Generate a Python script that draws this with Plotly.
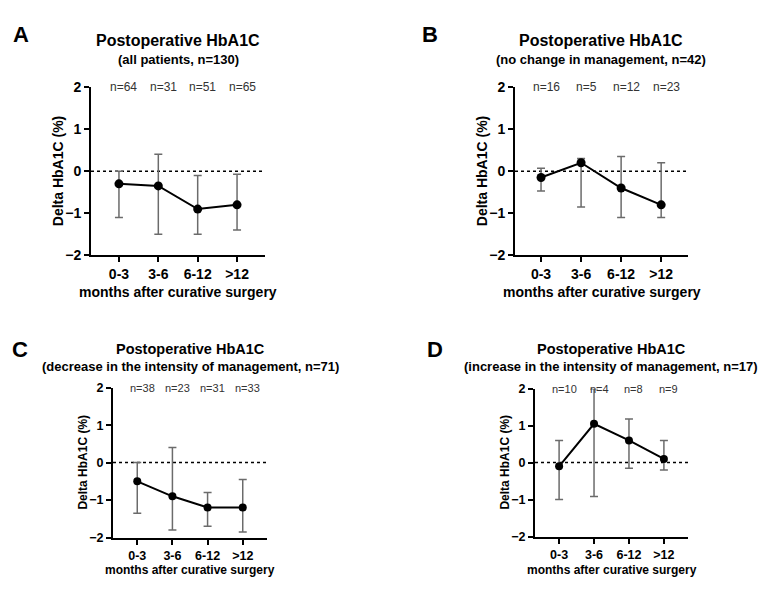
import plotly.graph_objects as go

categories = ["0-3", "3-6", "6-12", ">12"]

a_mean = [-0.3, -0.35, -0.9, -0.8]
a_low = [-1.1, -1.5, -1.5, -1.4]
a_high = [0.0, 0.4, -0.1, -0.07]
a_n = ["n=64", "n=31", "n=51", "n=65"]

b_mean = [-0.15, 0.2, -0.4, -0.8]
b_low = [-0.47, -0.85, -1.1, -1.1]
b_high = [0.07, 0.3, 0.35, 0.2]
b_n = ["n=16", "n=5", "n=12", "n=23"]

c_mean = [-0.5, -0.9, -1.2, -1.2]
c_low = [-1.35, -1.8, -1.7, -1.85]
c_high = [0.0, 0.4, -0.8, -0.45]
c_n = ["n=38", "n=23", "n=31", "n=33"]

d_mean = [-0.1, 1.05, 0.6, 0.1]
d_low = [-1.0, -0.92, -0.15, -0.2]
d_high = [0.6, 2.0, 1.18, 0.6]
d_n = ["n=10", "n=4", "n=8", "n=9"]

titles = ["Postoperative HbA1C"] * 4
subtitles = ["(all patients, n=130)", "(no change in management, n=42)",
             "(decrease in the intensity of management, n=71)",
             "(increase in the intensity of management, n=17)"]
letters = ["A", "B", "C", "D"]
y_ticks = [-2, -1, 0, 1, 2]
y_title = "Delta HbA1C (%)"
x_title = "months after curative surgery"

# The page body has an 8px default margin: size the figure so the page is exactly 777x608
PAGE_W, PAGE_H, OFF = 777, 608, 8
W, H = PAGE_W - 2 * OFF, PAGE_H - 2 * OFF
FONT = "Liberation Sans, Arial, sans-serif"

panels = [
    dict(px=(91, 265), py=(81, 254), xr=(-0.71, 3.71), mean=a_mean, low=a_low, high=a_high, n=a_n,
         title=(178, 33, 53), letter=(21, 27), ytl=58, xtl=292, big=True),
    dict(px=(515, 688), py=(81, 254), xr=(-0.65, 3.67), mean=b_mean, low=b_low, high=b_high, n=b_n,
         title=(601, 33, 53), letter=(430, 27), ytl=482, xtl=292, big=True),
    dict(px=(113, 267), py=(390, 544), xr=(-0.69, 3.69), mean=c_mean, low=c_low, high=c_high, n=c_n,
         title=(190, 350, 368), letter=(20, 351), ytl=83, xtl=577, big=False),
    dict(px=(535, 688), py=(391, 543), xr=(-0.69, 3.69), mean=d_mean, low=d_low, high=d_high, n=d_n,
         title=(611, 350, 368), letter=(435, 351), ytl=505, xtl=577, big=False),
]

def px2x(x):
    return (x - OFF) / W

def px2y(y):
    return 1 - (y - OFF) / H

fig = go.Figure()
annotations = []
shapes = []

for i, p in enumerate(panels):
    k = "" if i == 0 else str(i + 1)
    xa, ya = "x" + k, "y" + k
    up = [h - m for h, m in zip(p["high"], p["mean"])]
    dn = [m - l for m, l in zip(p["mean"], p["low"])]
    fig.add_trace(go.Scatter(
        x=categories, y=p["mean"], xaxis=xa, yaxis=ya, mode="lines+markers",
        line=dict(color="black", width=2),
        marker=dict(color="black", size=9 if p["big"] else 8),
        error_y=dict(type="data", symmetric=False, array=up, arrayminus=dn,
                     color="#6b6b6b", thickness=1.5, width=4),
        showlegend=False, cliponaxis=False,
    ))
    tfs = 14 if p["big"] else 12.5
    common_x = dict(
        domain=[px2x(p["px"][0]), px2x(p["px"][1])], anchor=ya,
        type="category", categoryorder="array", categoryarray=categories,
        range=list(p["xr"]), showline=True, linecolor="black", linewidth=2,
        ticks="outside", ticklen=5, tickwidth=2, tickcolor="black",
        showgrid=False, zeroline=False,
        tickfont=dict(family=FONT, size=tfs, color="black", weight="bold"),
    )
    common_y = dict(
        domain=[px2y(p["py"][1]), px2y(p["py"][0])], anchor=xa,
        range=[-2, 2], tickvals=y_ticks, showline=True, linecolor="black", linewidth=2,
        ticks="outside", ticklen=5, tickwidth=2, tickcolor="black",
        showgrid=False, zeroline=False,
        tickfont=dict(family=FONT, size=tfs, color="black", weight="bold"),
    )
    fig.update_layout(**{"xaxis" + k: common_x, "yaxis" + k: common_y})

    shapes.append(dict(type="line", xref=xa + " domain", yref=ya, x0=0, x1=1, y0=0, y1=0,
                       line=dict(color="black", width=1.5, dash="dot"), layer="below"))

    for c, lab in zip(categories, p["n"]):
        annotations.append(dict(x=c, y=2, xref=xa, yref=ya, text=lab, showarrow=False,
                                xshift=5, font=dict(family=FONT, size=12 if p["big"] else 11,
                                                    color="#333333")))
    tx, ty1, ty2 = p["title"]
    annotations.append(dict(x=px2x(tx), y=px2y(ty1), xref="paper", yref="paper",
                            text=titles[i], showarrow=False, xanchor="center", yanchor="middle",
                            font=dict(family=FONT, size=16 if p["big"] else 14.5, color="black", weight="bold")))
    annotations.append(dict(x=px2x(tx), y=px2y(ty2), xref="paper", yref="paper",
                            text=subtitles[i], showarrow=False, xanchor="center", yanchor="middle",
                            font=dict(family=FONT, size=13, color="black", weight="bold")))
    lx, ly = p["letter"]
    annotations.append(dict(x=px2x(lx), y=px2y(ly), xref="paper", yref="paper",
                            text=letters[i], showarrow=False, xanchor="center", yanchor="middle",
                            font=dict(family=FONT, size=22, color="black", weight="bold")))
    annotations.append(dict(x=px2x(p["ytl"]), y=px2y((p["py"][0] + p["py"][1]) / 2),
                            xref="paper", yref="paper", text=y_title, showarrow=False, textangle=-90,
                            xanchor="center", yanchor="middle",
                            font=dict(family=FONT, size=14 if p["big"] else 12, color="black", weight="bold")))
    annotations.append(dict(x=px2x((p["px"][0] + p["px"][1]) / 2), y=px2y(p["xtl"]),
                            xref="paper", yref="paper", text=x_title, showarrow=False,
                            xanchor="center", yanchor="middle",
                            font=dict(family=FONT, size=14 if p["big"] else 12, color="black", weight="bold")))

fig.update_layout(width=W, height=H, margin=dict(l=0, r=0, t=0, b=0),
                  paper_bgcolor="white", plot_bgcolor="white",
                  annotations=annotations, shapes=shapes,
                  font=dict(family=FONT))
fig.write_html("out.html")
